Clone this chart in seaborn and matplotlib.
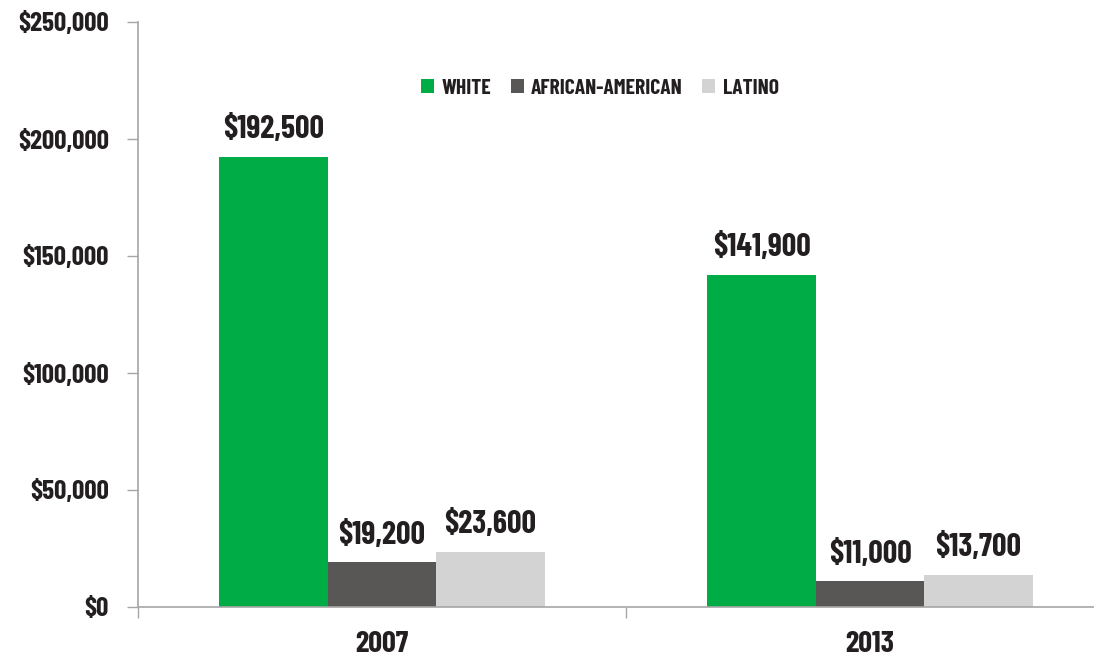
import pandas as pd
import seaborn as sns
import matplotlib.pyplot as plt
from matplotlib.ticker import FuncFormatter

# data
years = ['2007', '2013']
groups = ['WHITE', 'AFRICAN-AMERICAN', 'LATINO']
white = [192500, 141900]
african_american = [19200, 11000]
latino = [23600, 13700]

df = pd.DataFrame({
    'Year': years * 3,
    'Group': [g for g in groups for _ in years],
    'Wealth': white + african_american + latino,
})

colors = ['#00AC46', '#585755', '#D3D3D3']
text_color = '#231F20'
axis_color = '#A6A6A6'

sns.set_style('white')
plt.rcParams['font.family'] = ['Barlow Condensed', 'DejaVu Sans']
plt.rcParams['font.weight'] = 700

fig = plt.figure(figsize=(10.94, 6.6), dpi=100)
ax = fig.add_axes([138 / 1094, 1 - 607 / 660, 1 - 138 / 1094, (607 - 22) / 660])

sns.barplot(data=df, x='Year', y='Wealth', hue='Group', hue_order=groups,
            palette=colors, width=0.667, gap=0, saturation=1, linewidth=0,
            ax=ax)

for cont in ax.containers:
    ax.bar_label(cont, labels=[f'${v:,.0f}' for v in cont.datavalues],
                 padding=9, fontsize=23, fontweight=700, color=text_color)

ax.set_ylim(0, 250000)
ax.set_yticks(range(0, 250001, 50000))
ax.set_xlim(-0.5, 1.459)
ax.set_xticks([-0.5, 0.5], minor=True)
ax.yaxis.set_major_formatter(FuncFormatter(lambda v, p: f'${v:,.0f}'))

ax.tick_params(axis='y', which='major', length=8, width=1, color=axis_color,
               labelsize=19.5, labelcolor=text_color, pad=13, left=True)
ax.tick_params(axis='x', which='major', length=0, labelsize=22,
               labelcolor=text_color, pad=17)
ax.tick_params(axis='x', which='minor', length=8, width=1, color=axis_color,
               bottom=True)
for lab in ax.get_xticklabels() + ax.get_yticklabels():
    lab.set_fontweight(700)

for side in ['top', 'right']:
    ax.spines[side].set_visible(False)
for side in ['left', 'bottom']:
    ax.spines[side].set_color(axis_color)
    ax.spines[side].set_linewidth(1.2)

ax.set_xlabel('')
ax.set_ylabel('')

leg = ax.legend(loc='center', bbox_to_anchor=(600 / 1094, 1 - 88 / 660),
                bbox_transform=fig.transFigure, ncol=3, frameon=False,
                handlelength=0.6, handleheight=0.6, handletextpad=0.35,
                columnspacing=0.9, prop={'size': 15.5, 'weight': 700})
for t in leg.get_texts():
    t.set_color(text_color)

plt.savefig('out.png', dpi=100)
plt.close()
